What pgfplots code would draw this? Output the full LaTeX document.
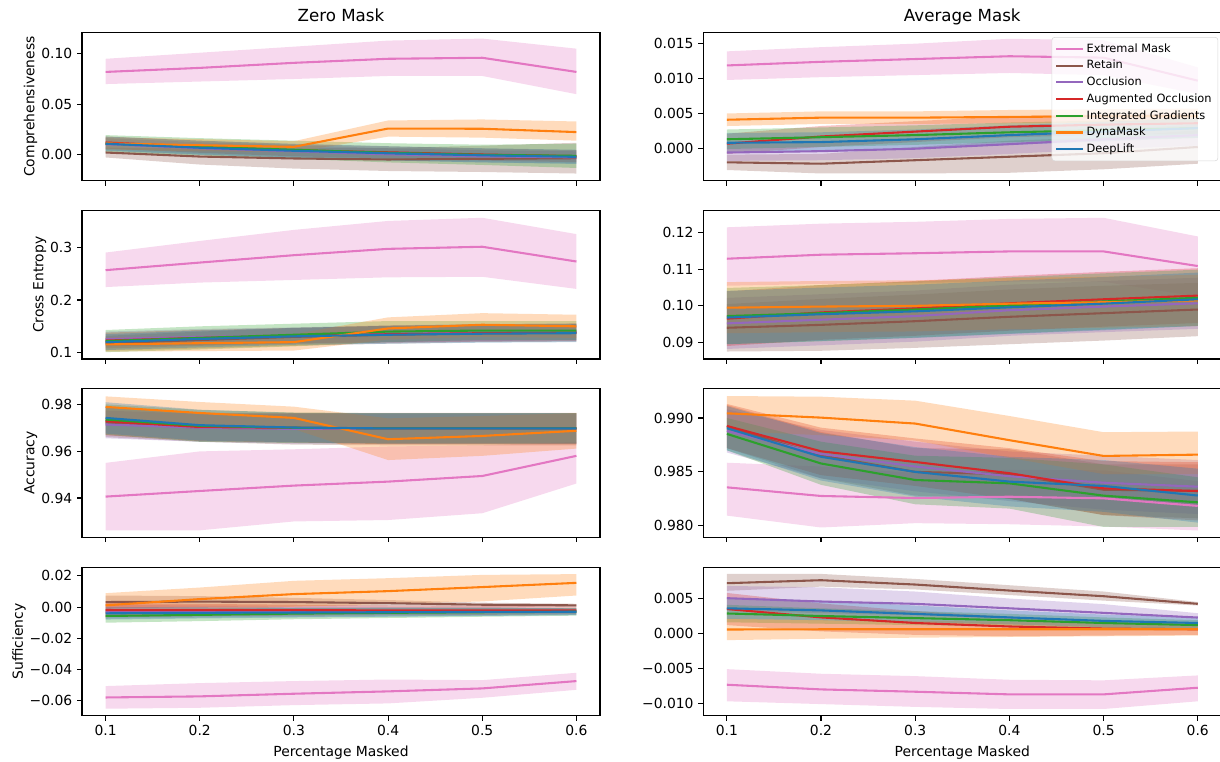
\documentclass[border=0pt]{standalone}
\usepackage{fontspec}
\setmainfont{DejaVu Sans}
\usepackage{pgfplots}
\usepackage{pgfplotstable}
\pgfplotsset{compat=1.18}
\usepgfplotslibrary{fillbetween}

\definecolor{cE}{HTML}{E377C2}
\definecolor{cR}{HTML}{8C564B}
\definecolor{cO}{HTML}{9467BD}
\definecolor{cA}{HTML}{D62728}
\definecolor{cI}{HTML}{2CA02C}
\definecolor{cD}{HTML}{FF7F0E}
\definecolor{cL}{HTML}{1F77B4}

% columns: x, then mean/low/high for Extremal(e) Retain(r) Occlusion(o) AugOcc(a) IG(i) DynaMask(d) DeepLift(l)
\pgfplotstableread{
x em el eh rm rl rh om ol oh am al ah im il ih dm dl dh lm ll lh
0.1 0.082 0.070 0.095 0.0023 -0.0026 0.0072 0.0105 0.0045 0.0165 0.0122 0.0062 0.0182 0.0110 0.0025 0.0195 0.0113 0.0053 0.0173 0.0110 0.0040 0.0180
0.2 0.086 0.0725 0.101 -0.0017 -0.0096 0.0062 0.0065 0.0005 0.0125 0.0080 0.0020 0.0140 0.0080 -0.0005 0.0165 0.0095 0.0035 0.0155 0.0070 0.0000 0.0140
0.3 0.091 0.075 0.107 -0.0036 -0.0136 0.0064 0.0035 -0.0025 0.0095 0.0045 -0.0015 0.0105 0.0050 -0.0040 0.0140 0.0079 0.0025 0.0135 0.0040 -0.0030 0.0110
0.4 0.095 0.078 0.113 -0.0046 -0.0160 0.0068 0.0005 -0.0055 0.0065 0.0025 -0.0035 0.0085 0.0020 -0.0075 0.0115 0.0260 0.0180 0.0340 0.0015 -0.0055 0.0085
0.5 0.096 0.078 0.115 -0.0040 -0.0170 0.0090 -0.0015 -0.0075 0.0045 0.0003 -0.0057 0.0063 0.0000 -0.0100 0.0100 0.0258 0.0170 0.0350 -0.0005 -0.0075 0.0065
0.6 0.082 0.060 0.105 -0.0033 -0.0185 0.0119 -0.0025 -0.0085 0.0035 -0.0013 -0.0073 0.0047 -0.0010 -0.0130 0.0110 0.0225 0.0140 0.0330 -0.0020 -0.0090 0.0050
}\PA

\pgfplotstableread{
x em el eh rm rl rh om ol oh am al ah im il ih dm dl dh lm ll lh
0.1 0.01188 0.0098 0.0139 -0.0020 -0.0031 -0.0009 -0.0006 -0.0018 0.0006 0.00067 -0.0008 0.0021 0.0013 -0.0001 0.0027 0.0041 0.0032 0.0050 0.0008 -0.0006 0.0022
0.2 0.0124 0.0102 0.0145 -0.0022 -0.0036 -0.0008 -0.0004 -0.0017 0.0009 0.0017 0.0002 0.0032 0.0016 0.0002 0.0030 0.0044 0.0035 0.0053 0.0009 -0.0005 0.0023
0.3 0.0128 0.0105 0.0150 -0.0017 -0.0036 0.0002 -0.00005 -0.0014 0.0013 0.0024 0.0009 0.0039 0.0019 0.0005 0.0033 0.0044 0.0035 0.0053 0.0013 -0.0001 0.0027
0.4 0.0132 0.0108 0.0157 -0.0012 -0.0035 0.0011 0.0006 -0.0008 0.0020 0.0031 0.0016 0.0046 0.0023 0.0009 0.0037 0.0045 0.0036 0.0055 0.0019 0.0005 0.0033
0.5 0.0130 0.0105 0.0155 -0.0007 -0.0030 0.0016 0.0013 -0.0001 0.0027 0.0034 0.0019 0.0049 0.0026 0.0012 0.0040 0.0046 0.0037 0.0056 0.0024 0.0010 0.0038
0.6 0.0097 0.0078 0.0116 0.0002 -0.0022 0.0026 0.0019 0.0004 0.0034 0.0036 0.0021 0.0051 0.0029 0.0015 0.0043 0.0046 0.0037 0.0057 0.0029 0.0015 0.0043
}\PB

\pgfplotstableread{
x em el eh rm rl rh om ol oh am al ah im il ih dm dl dh lm ll lh
0.1 0.2566 0.2245 0.290 0.118 0.104 0.132 0.126 0.112 0.140 0.123 0.108 0.138 0.122 0.101 0.143 0.1157 0.102 0.129 0.120 0.105 0.135
0.2 0.271 0.233 0.312 0.124 0.108 0.140 0.130 0.115 0.145 0.128 0.113 0.143 0.128 0.106 0.150 0.118 0.103 0.132 0.126 0.110 0.142
0.3 0.285 0.238 0.333 0.130 0.113 0.147 0.133 0.118 0.148 0.132 0.117 0.147 0.134 0.112 0.155 0.120 0.104 0.135 0.131 0.115 0.147
0.4 0.297 0.243 0.350 0.134 0.117 0.151 0.136 0.120 0.152 0.135 0.119 0.151 0.140 0.120 0.160 0.146 0.125 0.167 0.134 0.117 0.151
0.5 0.301 0.244 0.356 0.137 0.120 0.154 0.138 0.122 0.154 0.137 0.121 0.153 0.142 0.124 0.160 0.153 0.130 0.175 0.136 0.119 0.153
0.6 0.273 0.221 0.325 0.138 0.121 0.155 0.140 0.124 0.156 0.138 0.122 0.154 0.142 0.124 0.160 0.150 0.128 0.172 0.137 0.120 0.154
}\PC

\pgfplotstableread{
x em el eh rm rl rh om ol oh am al ah im il ih dm dl dh lm ll lh
0.1 0.1129 0.1055 0.1215 0.0940 0.0875 0.1005 0.0952 0.0882 0.1022 0.0965 0.0890 0.1040 0.0972 0.0895 0.1049 0.0995 0.0925 0.1065 0.0968 0.0895 0.1041
0.2 0.1140 0.1060 0.1225 0.0948 0.0877 0.1019 0.0962 0.0892 0.1032 0.0982 0.0907 0.1057 0.0980 0.0903 0.1057 0.0998 0.0928 0.1068 0.0977 0.0904 0.1050
0.3 0.1144 0.1063 0.1230 0.0958 0.0885 0.1031 0.0972 0.0902 0.1042 0.0993 0.0918 0.1068 0.0990 0.0913 0.1067 0.1000 0.0930 0.1070 0.0985 0.0912 0.1058
0.4 0.1149 0.1066 0.1238 0.0970 0.0895 0.1045 0.0988 0.0918 0.1058 0.1007 0.0932 0.1082 0.1001 0.0924 0.1078 0.1006 0.0936 0.1076 0.0996 0.0923 0.1069
0.5 0.1149 0.1066 0.1241 0.0980 0.0905 0.1055 0.0998 0.0928 0.1068 0.1018 0.0943 0.1093 0.1012 0.0935 0.1089 0.1010 0.0940 0.1080 0.1006 0.0933 0.1079
0.6 0.1109 0.1025 0.1190 0.0990 0.0917 0.1063 0.1007 0.0937 0.1077 0.1028 0.0953 0.1103 0.1022 0.0945 0.1099 0.1015 0.0945 0.1085 0.1018 0.0945 0.1091
}\PD

\pgfplotstableread{
x em el eh rm rl rh om ol oh am al ah im il ih dm dl dh lm ll lh
0.1 0.9406 0.9262 0.9550 0.9723 0.9660 0.9786 0.9714 0.9655 0.9773 0.9728 0.9668 0.9788 0.9735 0.9670 0.9800 0.9789 0.9744 0.9834 0.9742 0.9675 0.9809
0.2 0.9430 0.9262 0.9599 0.9700 0.9640 0.9760 0.9700 0.9640 0.9760 0.9703 0.9643 0.9763 0.9708 0.9640 0.9776 0.9763 0.9716 0.9810 0.9711 0.9645 0.9777
0.3 0.9453 0.9300 0.9608 0.9697 0.9628 0.9762 0.9695 0.9632 0.9758 0.9700 0.9637 0.9763 0.9700 0.9635 0.9765 0.9742 0.9694 0.9790 0.9701 0.9638 0.9764
0.4 0.9470 0.9306 0.9620 0.9697 0.9625 0.9762 0.9695 0.9632 0.9758 0.9697 0.9630 0.9764 0.9697 0.9632 0.9762 0.9651 0.9562 0.9740 0.9697 0.9632 0.9762
0.5 0.9494 0.9335 0.9625 0.9697 0.9625 0.9762 0.9695 0.9632 0.9758 0.9697 0.9630 0.9764 0.9697 0.9632 0.9762 0.9665 0.9580 0.9750 0.9697 0.9632 0.9762
0.6 0.9580 0.9462 0.9640 0.9697 0.9625 0.9762 0.9695 0.9632 0.9758 0.9697 0.9630 0.9764 0.9697 0.9632 0.9762 0.9687 0.9611 0.9763 0.9697 0.9632 0.9762
}\PE

\pgfplotstableread{
x em el eh rm rl rh om ol oh am al ah im il ih dm dl dh lm ll lh
0.1 0.98357 0.98095 0.98585 0.98920 0.98720 0.99120 0.98880 0.98680 0.99080 0.98926 0.98720 0.99130 0.98852 0.98700 0.99000 0.99043 0.98880 0.99203 0.98905 0.98700 0.99110
0.2 0.98277 0.97985 0.98550 0.98654 0.98440 0.98870 0.98666 0.98440 0.98890 0.98691 0.98470 0.98910 0.98578 0.98380 0.98780 0.99003 0.98840 0.99197 0.98640 0.98420 0.98860
0.3 0.98258 0.98025 0.98490 0.98500 0.98280 0.98720 0.98550 0.98320 0.98780 0.98592 0.98370 0.98810 0.98425 0.98200 0.98650 0.98948 0.98790 0.99160 0.98500 0.98270 0.98730
0.4 0.98270 0.98015 0.98520 0.98479 0.98250 0.98710 0.98460 0.98230 0.98690 0.98488 0.98250 0.98720 0.98394 0.98160 0.98630 0.98794 0.98630 0.99018 0.98410 0.98180 0.98640
0.5 0.98255 0.97994 0.98515 0.98335 0.98100 0.98570 0.98400 0.98150 0.98650 0.98348 0.98100 0.98600 0.98280 0.97990 0.98570 0.98648 0.98480 0.98868 0.98370 0.98130 0.98610
0.6 0.98185 0.97957 0.98415 0.98323 0.98070 0.98570 0.98363 0.98110 0.98610 0.98323 0.98050 0.98590 0.98218 0.97990 0.98450 0.98660 0.98480 0.98874 0.98281 0.98030 0.98530
}\PF

\pgfplotstableread{
x em el eh rm rl rh om ol oh am al ah im il ih dm dl dh lm ll lh
0.1 -0.0579 -0.0651 -0.0506 0.0032 -0.0010 0.0074 -0.0030 -0.0075 0.0015 -0.0019 -0.0065 0.0027 -0.0057 -0.0100 -0.0014 0.0011 -0.0067 0.0089 -0.0040 -0.0080 0.0000
0.2 -0.0572 -0.0645 -0.0487 0.0035 0.0000 0.0070 -0.0029 -0.0068 0.0010 -0.0020 -0.0060 0.0020 -0.0050 -0.0090 -0.0010 0.0051 -0.0022 0.0125 -0.0037 -0.0073 -0.0001
0.3 -0.0555 -0.0628 -0.0474 0.0032 0.0005 0.0059 -0.0029 -0.0063 0.0005 -0.0020 -0.0055 0.0015 -0.0042 -0.0078 -0.0006 0.0083 0.0002 0.0168 -0.0035 -0.0067 -0.0003
0.4 -0.0540 -0.0617 -0.0464 0.0025 0.0005 0.0045 -0.0029 -0.0060 0.0002 -0.0021 -0.0052 0.0010 -0.0037 -0.0070 -0.0004 0.0102 0.0020 0.0185 -0.0033 -0.0062 -0.0004
0.5 -0.0521 -0.0581 -0.0468 0.0015 0.0002 0.0028 -0.0028 -0.0055 0.0000 -0.0021 -0.0050 0.0008 -0.0033 -0.0062 -0.0004 0.0128 0.0036 0.0206 -0.0031 -0.0057 -0.0005
0.6 -0.0474 -0.0530 -0.0421 0.0011 0.0001 0.0021 -0.0028 -0.0050 -0.0006 -0.0021 -0.0045 0.0003 -0.0030 -0.0055 -0.0005 0.0155 0.0074 0.0211 -0.0030 -0.0052 -0.0008
}\PG

\pgfplotstableread{
x em el eh rm rl rh om ol oh am al ah im il ih dm dl dh lm ll lh
0.1 -0.00733 -0.0097 -0.0051 0.00719 0.0061 0.00852 0.00505 0.0033 0.0068 0.0035 0.0012 0.0058 0.00286 0.0016 0.0041 0.00057 -0.00095 0.0021 0.0036 0.0021 0.0051
0.2 -0.0080 -0.0101 -0.00576 0.00762 0.0067 0.00852 0.00457 0.0029 0.0066 0.0023 0.0003 0.0043 0.0025 0.0014 0.0036 0.0006 -0.00076 0.0019 0.0033 0.0019 0.0047
0.3 -0.00833 -0.0105 -0.0061 0.0070 0.0063 0.0078 0.00424 0.0026 0.0060 0.0015 -0.0002 0.0032 0.0022 0.0012 0.0032 0.0006 -0.0006 0.0018 0.0028 0.0016 0.0040
0.4 -0.00871 -0.0108 -0.00662 0.00614 0.0055 0.0069 0.0036 0.0021 0.0050 0.0010 -0.0004 0.0024 0.0019 0.0010 0.0028 0.0006 -0.0005 0.0017 0.0023 0.0013 0.0033
0.5 -0.00871 -0.0108 -0.0067 0.00533 0.0047 0.0060 0.00295 0.0017 0.0042 0.0007 -0.0003 0.0017 0.0015 0.0007 0.0023 0.0006 -0.0004 0.0016 0.0018 0.0009 0.0027
0.6 -0.00776 -0.0097 -0.0060 0.00424 0.0040 0.0045 0.00228 0.0016 0.0029 0.0006 -0.0002 0.0014 0.0012 0.0005 0.0019 0.0006 -0.0003 0.0015 0.0015 0.0007 0.0023
}\PH

\newcommand{\band}[3]{%
  \addplot[draw=none, forget plot, name path=#2U] table[x=x,y=#2h] {#1};
  \addplot[draw=none, forget plot, name path=#2L] table[x=x,y=#2l] {#1};
  \addplot[fill=#3, fill opacity=0.28, draw=none, forget plot] fill between[of=#2U and #2L];
}
\newcommand{\mline}[3]{%
  \addplot[color=#3, line width=1.5pt] table[x=x,y=#2m] {#1};
}
\newcommand{\panel}[1]{%
  \band{#1}{e}{cE}\band{#1}{r}{cR}\band{#1}{o}{cO}\band{#1}{a}{cA}%
  \band{#1}{i}{cI}\band{#1}{d}{cD}\band{#1}{l}{cL}%
  \mline{#1}{e}{cE}\mline{#1}{r}{cR}\mline{#1}{o}{cO}\mline{#1}{a}{cA}%
  \mline{#1}{i}{cI}\mline{#1}{d}{cD}\mline{#1}{l}{cL}%
}

\pgfplotsset{myax/.style={
  scale only axis, width=372.96pt, height=106.92pt,
  anchor=north west,
  xmin=0.075, xmax=0.625,
  xtick={0.1,0.2,0.3,0.4,0.5,0.6},
  xticklabels={},
  scaled y ticks=false,
  tick align=outside, tick pos=left,
  major tick length=3.5pt,
  every tick/.style={black, line width=0.8pt},
  axis line style={line width=0.8pt},
  tick label style={font=\fontsize{10}{12}\selectfont},
  label style={font=\fontsize{10}{12}\selectfont},
  ylabel shift=-4pt,
  title style={font=\fontsize{12}{14}\selectfont, at={(0.5,1)}, anchor=base, yshift=2pt},
},
bottomax/.style={
  xticklabels={0.1,0.2,0.3,0.4,0.5,0.6},
  xlabel={Percentage Masked},
}}

\begin{document}
\begin{tikzpicture}

% Row 1
\begin{axis}[myax, at={(59.04pt,-23.26pt)}, title={Zero Mask}, ylabel={Comprehensiveness},
  ymin=-0.0257, ymax=0.1212, ytick={0,0.05,0.1}, yticklabels={0.00,0.05,0.10}]
\panel{\PA}
\end{axis}
\begin{axis}[myax, at={(506.38pt,-23.26pt)}, title={Average Mask},
  ymin=-0.00465, ymax=0.01663, ytick={0,0.005,0.01,0.015}, yticklabels={0.000,0.005,0.010,0.015},
  legend style={at={(0.994,0.968)}, anchor=north east, font=\fontsize{8.2}{9.8}\selectfont,
    draw=black!15, fill=white, fill opacity=0.8, text opacity=1, rounded corners=2pt,
    inner sep=2.5pt, row sep=0.3pt, cells={anchor=west}},
  legend image code/.code={\draw[#1] (0pt,0pt) -- (19pt,0pt);},
  legend entries={Extremal Mask,Retain,Occlusion,Augmented Occlusion,Integrated Gradients,DynaMask,DeepLift}]
\panel{\PB}
\end{axis}

% Row 2
\begin{axis}[myax, at={(59.04pt,-151.56pt)}, ylabel={Cross Entropy},
  ymin=0.088, ymax=0.3698, ytick={0.1,0.2,0.3}, yticklabels={0.1,0.2,0.3}]
\panel{\PC}
\end{axis}
\begin{axis}[myax, at={(506.38pt,-151.56pt)},
  ymin=0.08545, ymax=0.1261, ytick={0.09,0.10,0.11,0.12}, yticklabels={0.09,0.10,0.11,0.12}]
\panel{\PD}
\end{axis}

% Row 3
\begin{axis}[myax, at={(59.04pt,-279.86pt)}, ylabel={Accuracy},
  ymin=0.92327, ymax=0.98667, ytick={0.94,0.96,0.98}, yticklabels={0.94,0.96,0.98}]
\panel{\PE}
\end{axis}
\begin{axis}[myax, at={(506.38pt,-279.86pt)},
  ymin=0.97895, ymax=0.99271, ytick={0.98,0.985,0.99}, yticklabels={0.980,0.985,0.990}]
\panel{\PF}
\end{axis}

% Row 4
\begin{axis}[myax, bottomax, at={(59.04pt,-408.38pt)}, ylabel={Sufficiency},
  ymin=-0.06957, ymax=0.02553, ytick={-0.06,-0.04,-0.02,0,0.02},
  yticklabels={−0.06,−0.04,−0.02,0.00,0.02}]
\panel{\PG}
\end{axis}
\begin{axis}[myax, bottomax, at={(506.38pt,-408.38pt)},
  ymin=-0.01176, ymax=0.00948, ytick={-0.01,-0.005,0,0.005},
  yticklabels={−0.010,−0.005,0.000,0.005}]
\panel{\PH}
\end{axis}
\pgfresetboundingbox
\useasboundingbox (0,0) rectangle (878.4pt,-548.64pt);
\end{tikzpicture}
\end{document}
